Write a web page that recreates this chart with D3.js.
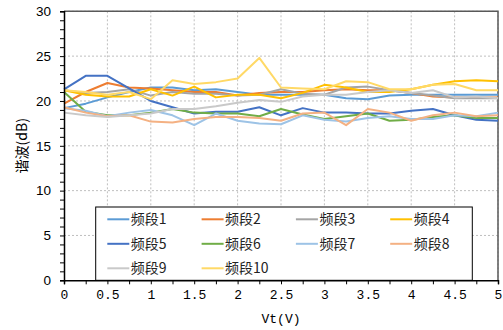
<!DOCTYPE html>
<html>
<head>
<meta charset="utf-8">
<script src="https://cdn.jsdelivr.net/npm/d3@7"></script>
<style>
  html, body { margin: 0; padding: 0; background: #fff; }
  svg { display: block; }
</style>
</head>
<body>
<svg id="chart" width="503" height="330"></svg>
<script>
// Control voltage samples (V)
const vt = [0, 0.25, 0.5, 0.75, 1, 1.25, 1.5, 1.75, 2, 2.25, 2.5, 2.75, 3, 3.25, 3.5, 3.75, 4, 4.25, 4.5, 4.75, 5];

// Harmonic level per band (dB)
const band1  = [19.2, 19.7, 20.4, 21.0, 21.5, 21.5, 21.2, 21.3, 21.0, 20.7, 20.7, 20.7, 20.7, 20.3, 20.2, 20.6, 20.7, 20.7, 20.7, 20.7, 20.7];
const band2  = [19.7, 21.0, 22.0, 21.5, 21.4, 21.2, 21.0, 21.0, 20.6, 20.9, 21.0, 21.0, 21.2, 21.3, 21.2, 21.2, 20.9, 20.5, 20.4, 20.4, 20.4];
const band3  = [21.2, 20.9, 21.0, 21.3, 20.6, 21.0, 20.8, 20.8, 20.6, 20.7, 21.3, 20.8, 20.7, 21.5, 21.6, 21.2, 20.9, 20.6, 20.3, 20.3, 20.3];
const band4  = [21.2, 20.7, 20.5, 20.5, 21.3, 20.6, 21.6, 20.4, 20.7, 20.7, 20.3, 20.9, 21.8, 21.5, 21.0, 21.0, 21.3, 21.8, 22.2, 22.3, 22.2];
const band5  = [21.3, 22.8, 22.8, 21.4, 20.0, 19.3, 18.6, 18.8, 18.8, 19.3, 18.4, 19.2, 18.7, 18.7, 18.6, 18.6, 18.9, 19.1, 18.4, 17.9, 17.8];
const band6  = [21.0, 18.8, 18.4, 18.4, 18.7, 19.1, 18.7, 18.6, 18.6, 18.3, 19.1, 18.5, 18.0, 18.3, 18.6, 17.8, 17.9, 18.2, 18.4, 18.1, 18.1];
const band7  = [19.2, 18.9, 18.3, 18.7, 19.0, 18.4, 17.3, 18.6, 17.8, 17.5, 17.4, 18.4, 17.9, 17.7, 18.1, 18.3, 18.0, 18.0, 18.4, 18.3, 18.7];
const band8  = [19.3, 18.7, 18.3, 18.4, 17.7, 17.6, 18.0, 18.2, 18.2, 18.1, 17.8, 18.6, 18.7, 17.3, 19.1, 18.7, 17.8, 18.4, 18.7, 18.3, 18.4];
const band9  = [18.7, 18.4, 18.2, 18.4, 18.6, 19.1, 19.1, 19.4, 19.8, 20.1, 19.9, 20.5, 20.7, 20.7, 21.0, 21.2, 20.9, 21.2, 20.4, 20.5, 20.3];
const band10 = [21.2, 21.0, 20.7, 21.0, 20.2, 22.3, 21.9, 22.1, 22.5, 24.8, 21.5, 21.4, 21.3, 22.2, 22.1, 21.3, 21.3, 21.8, 21.9, 21.2, 21.2];

const bandNames  = ["频段1", "频段2", "频段3", "频段4", "频段5", "频段6", "频段7", "频段8", "频段9", "频段10"];
const bandColors = ["#5B9BD5", "#ED7D31", "#A5A5A5", "#FFC000", "#4472C4", "#70AD47", "#9DC3E6", "#F4B183", "#C9C9C9", "#FFD966"];
const bandValues = [band1, band2, band3, band4, band5, band6, band7, band8, band9, band10];

const xTicks = [0, 0.5, 1, 1.5, 2, 2.5, 3, 3.5, 4, 4.5, 5];
const yTicks = [0, 5, 10, 15, 20, 25, 30];
const xLabel = "Vt(V)";
const yLabel = "谐波(dB)";

const svg = d3.select("#chart");
const plot = { left: 64, right: 498, top: 11.3, bottom: 280.3 };

const x = d3.scaleLinear().domain([0, 5]).range([plot.left, plot.right]);
const y = d3.scaleLinear().domain([0, 30]).range([plot.bottom, plot.top]);

// dotted grid
const grid = svg.append("g");
grid.selectAll("line.gx").data(xTicks.slice(1)).join("line")
  .attr("x1", d => x(d)).attr("x2", d => x(d))
  .attr("y1", plot.top).attr("y2", plot.bottom)
  .attr("stroke", "#BFBFBF").attr("stroke-width", 1).attr("stroke-dasharray", "2,2");
grid.selectAll("line.gy").data(yTicks.slice(1)).join("line")
  .attr("x1", plot.left).attr("x2", plot.right)
  .attr("y1", d => y(d)).attr("y2", d => y(d))
  .attr("stroke", "#BFBFBF").attr("stroke-width", 1).attr("stroke-dasharray", "2,2");

// plot frame (top and right)
svg.append("path")
  .attr("d", `M${plot.left},${plot.top}H${plot.right}V${plot.bottom}`)
  .attr("fill", "none").attr("stroke", "#595959").attr("stroke-width", 1.5);

// series
const line = d3.line().x((d, i) => x(vt[i])).y(d => y(d));
svg.append("g").selectAll("path").data(bandValues).join("path")
  .attr("d", d => line(d))
  .attr("fill", "none")
  .attr("stroke", (d, i) => bandColors[i])
  .attr("stroke-width", 2)
  .attr("stroke-linejoin", "round");

// legend
const lg = { left: 95.7, top: 207, right: 472.3, bottom: plot.bottom };
const legend = svg.append("g");
legend.append("rect")
  .attr("x", lg.left).attr("y", lg.top)
  .attr("width", lg.right - lg.left).attr("height", lg.bottom - lg.top)
  .attr("fill", "#fff").attr("stroke", "#000").attr("stroke-width", 1);
const colW = 94.3, rowH = 24.5;
const items = legend.selectAll("g.item").data(bandNames).join("g")
  .attr("transform", (d, i) => `translate(${107.3 + (i % 4) * colW},${219.3 + Math.floor(i / 4) * rowH})`);
items.append("line")
  .attr("x1", 0).attr("x2", 22).attr("y1", 0).attr("y2", 0)
  .attr("stroke", (d, i) => bandColors[i]).attr("stroke-width", 2);
items.append("text")
  .attr("x", 23.5).attr("y", 0).attr("dy", "0.36em")
  .attr("font-family", "'Noto Sans CJK SC', sans-serif")
  .attr("font-size", 14).attr("fill", "#222")
  .text(d => d);

// axes
const xAxis = d3.axisBottom(x).tickValues(vt).tickSize(4).tickFormat(d => xTicks.includes(d) ? String(d) : "");
const gx = svg.append("g").attr("transform", `translate(0,${plot.bottom})`).call(xAxis);
gx.select(".domain").attr("stroke", "#000").attr("stroke-width", 1.5);
gx.selectAll(".tick line").attr("stroke", "#000");
gx.selectAll(".tick text")
  .attr("font-family", "'Liberation Mono', 'DejaVu Sans Mono', monospace")
  .attr("font-size", 13).attr("fill", "#000").attr("y", 9);

const yAxis = d3.axisLeft(y).ticks(30).tickSize(4).tickFormat(d => yTicks.includes(d) ? String(d) : "");
const gy = svg.append("g").attr("transform", `translate(${plot.left},0)`).call(yAxis);
gy.select(".domain").attr("stroke", "#000").attr("stroke-width", 1.5);
gy.selectAll(".tick line").attr("stroke", "#000");
gy.selectAll(".tick text")
  .attr("font-family", "'Liberation Sans', Arial, sans-serif")
  .attr("font-size", 13.5).attr("fill", "#000").attr("x", -13);

// axis titles
svg.append("text")
  .attr("x", (plot.left + plot.right) / 2).attr("y", 323)
  .attr("text-anchor", "middle")
  .attr("font-family", "'Liberation Mono', 'DejaVu Sans Mono', monospace")
  .attr("font-size", 13).attr("fill", "#000")
  .text(xLabel);
svg.append("text")
  .attr("transform", `translate(27,${(plot.top + plot.bottom) / 2}) rotate(-90)`)
  .attr("text-anchor", "middle")
  .attr("font-family", "'Noto Sans CJK SC', sans-serif")
  .attr("font-size", 14).attr("fill", "#000")
  .text(yLabel);
</script>
</body>
</html>
